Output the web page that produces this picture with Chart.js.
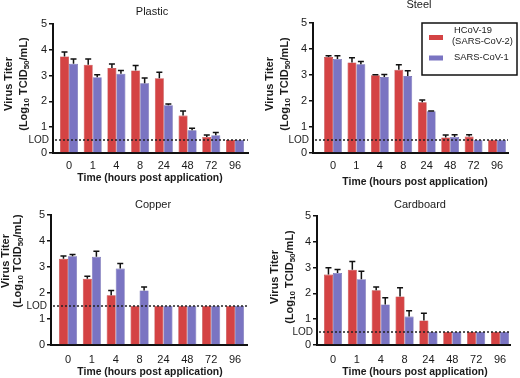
<!DOCTYPE html>
<html>
<head>
<meta charset="utf-8">
<script src="https://cdn.jsdelivr.net/npm/chart.js@4"></script>
<style>
  body { margin: 0; background: #fff; }
  #wrap { position: relative; width: 520px; height: 378px; }
  canvas { position: absolute; }
</style>
</head>
<body>
<div id="wrap">
  <canvas id="plastic" width="260" height="189" style="left:0;top:0"></canvas>
  <canvas id="steel" width="260" height="189" style="left:260px;top:0"></canvas>
  <canvas id="copper" width="260" height="189" style="left:0;top:189px"></canvas>
  <canvas id="cardboard" width="260" height="189" style="left:260px;top:189px"></canvas>
</div>
<script>
const timeLabels = ["0", "1", "4", "8", "24", "48", "72", "96"];

const plasticCov2 = [3.74, 3.42, 3.29, 3.2, 2.9, 1.45, 0.62, 0.5];
const plasticCov2Err = [0.17, 0.22, 0.16, 0.19, 0.23, 0.18, 0.08, 0];
const plasticCov1 = [3.46, 2.94, 3.07, 2.7, 1.85, 0.88, 0.69, 0.5];
const plasticCov1Err = [0.18, 0.09, 0.13, 0.21, 0.05, 0.08, 0.1, 0];

const steelCov2 = [3.69, 3.48, 2.99, 3.2, 1.95, 0.6, 0.63, 0.5];
const steelCov2Err = [0.05, 0.18, 0.02, 0.19, 0.09, 0.09, 0.07, 0];
const steelCov1 = [3.62, 3.41, 2.92, 2.96, 1.61, 0.62, 0.5, 0.5];
const steelCov1Err = [0.12, 0.11, 0.1, 0.2, 0.01, 0.08, 0, 0];

const copperCov2 = [3.32, 2.55, 1.91, 1.5, 1.5, 1.5, 1.5, 1.5];
const copperCov2Err = [0.1, 0.09, 0.19, 0, 0, 0, 0, 0];
const copperCov1 = [3.41, 3.39, 2.94, 2.1, 1.5, 1.5, 1.5, 1.5];
const copperCov1Err = [0.07, 0.22, 0.19, 0.13, 0, 0, 0, 0];

const cardboardCov2 = [2.73, 2.92, 2.12, 1.88, 0.95, 0.5, 0.5, 0.5];
const cardboardCov2Err = [0.26, 0.32, 0.13, 0.34, 0.28, 0, 0, 0];
const cardboardCov1 = [2.79, 2.55, 1.57, 1.1, 0.5, 0.5, 0.5, 0.5];
const cardboardCov1Err = [0.14, 0.31, 0.26, 0.23, 0, 0, 0, 0];

const RED = "#d44344";
const PURPLE = "#7a74c2";
const FONT = "'Liberation Sans', Arial, sans-serif";

// panel geometry (canvas coordinates)
const panels = [
  { id: "plastic", title: "Plastic", cov2: plasticCov2, cov2Err: plasticCov2Err, cov1: plasticCov1, cov1Err: plasticCov1Err, lod: 0.5,
    left: 53, right: 248, top: 24, bottom: 153, x0: 69, x7: 235, tickPad: 6,
    titleX: 152, titleY: 12, xTitleX: 150, xTitleY: 178, yT1: 9, yT2: 24, yTcy: 84, legend: false },
  { id: "steel", title: "Steel", cov2: steelCov2, cov2Err: steelCov2Err, cov1: steelCov1, cov1Err: steelCov1Err, lod: 0.5,
    left: 53, right: 248, top: 23, bottom: 153, x0: 73, x7: 237, tickPad: 6,
    titleX: 159, titleY: 5, xTitleX: 155, xTitleY: 182, yT1: 10, yT2: 25, yTcy: 84, legend: true },
  { id: "copper", title: "Copper", cov2: copperCov2, cov2Err: copperCov2Err, cov1: copperCov1, cov1Err: copperCov1Err, lod: 1.5,
    left: 51, right: 247, top: 26, bottom: 156, x0: 68, x7: 235, tickPad: 8,
    titleX: 153, titleY: 16, xTitleX: 150, xTitleY: 183, yT1: 6, yT2: 18, yTcy: 72, legend: false },
  { id: "cardboard", title: "Cardboard", cov2: cardboardCov2, cov2Err: cardboardCov2Err, cov1: cardboardCov1, cov1Err: cardboardCov1Err, lod: 0.5,
    left: 57, right: 250, top: 27, bottom: 156, x0: 73, x7: 240, tickPad: 8,
    titleX: 160, titleY: 16, xTitleX: 155, xTitleY: 183, yT1: 15, yT2: 30, yTcy: 88, legend: false }
];

function drawRotatedTitle(ctx, p) {
  // "Virus Titer" and "(Log10 TCID50/mL)" with subscripts
  ctx.save();
  ctx.fillStyle = "#1a1a1a";
  ctx.textBaseline = "middle";
  ctx.translate(p.yT1, p.yTcy);
  ctx.rotate(-Math.PI / 2);
  ctx.font = "bold 11px " + FONT;
  ctx.textAlign = "center";
  ctx.fillText("Virus Titer", 0, 0);
  ctx.restore();

  const parts = [["(Log", false], ["10", true], [" TCID", false], ["50", true], ["/mL)", false]];
  ctx.save();
  ctx.fillStyle = "#1a1a1a";
  ctx.textBaseline = "middle";
  ctx.translate(p.yT2, p.yTcy);
  ctx.rotate(-Math.PI / 2);
  let total = 0;
  parts.forEach(([t, sub]) => {
    ctx.font = (sub ? "bold 8px " : "bold 11px ") + FONT;
    total += ctx.measureText(t).width;
  });
  let x = -total / 2;
  ctx.textAlign = "left";
  parts.forEach(([t, sub]) => {
    ctx.font = (sub ? "bold 8px " : "bold 11px ") + FONT;
    ctx.fillText(t, x, sub ? 3 : 0);
    x += ctx.measureText(t).width;
  });
  ctx.restore();
}

function makeChart(p) {
  const unit = (p.x7 - p.x0) / 7;
  const toPoints = arr => arr.map((v, i) => ({ x: i, y: v }));

  const decor = {
    id: "decor",
    afterDatasetsDraw(chart) {
      const ctx = chart.ctx;
      const ys = chart.scales.y;
      const area = chart.chartArea;
      // error bars, upper side only
      const errs = [p.cov2Err, p.cov1Err];
      const vals = [p.cov2, p.cov1];
      ctx.save();
      ctx.strokeStyle = "#111";
      ctx.lineWidth = 1.5;
      [0, 1].forEach(d => {
        chart.getDatasetMeta(d).data.forEach((bar, i) => {
          const e = errs[d][i];
          if (!e) return;
          const yTop = ys.getPixelForValue(vals[d][i] + e);
          ctx.beginPath();
          ctx.moveTo(bar.x, bar.y);
          ctx.lineTo(bar.x, yTop);
          ctx.moveTo(bar.x - 3, yTop);
          ctx.lineTo(bar.x + 3, yTop);
          ctx.stroke();
        });
      });
      // LOD dotted line
      const yl = ys.getPixelForValue(p.lod);
      ctx.setLineDash([2, 2]);
      ctx.lineWidth = 1.5;
      ctx.strokeStyle = "#222";
      ctx.beginPath();
      ctx.moveTo(area.left + 2, yl);
      ctx.lineTo(area.right, yl);
      ctx.stroke();
      ctx.setLineDash([]);
      ctx.restore();
    },
    afterDraw(chart) {
      const ctx = chart.ctx;
      const ys = chart.scales.y;
      ctx.save();
      ctx.fillStyle = "#1a1a1a";
      ctx.font = "10px " + FONT;
      ctx.textAlign = "right";
      ctx.textBaseline = "middle";
      ctx.fillText("LOD", p.left - 4, ys.getPixelForValue(p.lod));
      ctx.font = "11px " + FONT;
      ctx.textAlign = "center";
      ctx.fillText(p.title, p.titleX, p.titleY);
      ctx.font = "bold 10.4px " + FONT;
      ctx.fillText("Time (hours post application)", p.xTitleX, p.xTitleY);
      ctx.restore();
      drawRotatedTitle(ctx, p);
      if (p.legend) {
        ctx.save();
        ctx.strokeStyle = "#111";
        ctx.lineWidth = 1.5;
        ctx.fillStyle = "#fff";
        ctx.fillRect(162, 23, 95, 52);
        ctx.strokeRect(162, 23, 95, 52);
        ctx.fillStyle = RED;
        ctx.fillRect(169, 35, 14, 5);
        ctx.fillStyle = PURPLE;
        ctx.fillRect(169, 55.5, 14, 5);
        ctx.fillStyle = "#1a1a1a";
        ctx.font = "9.4px " + FONT;
        ctx.textAlign = "left";
        ctx.textBaseline = "middle";
        ctx.fillText("HCoV-19", 194, 30);
        ctx.fillText("(SARS-CoV-2)", 192, 41.7);
        ctx.fillText("SARS-CoV-1", 194, 57.7);
        ctx.restore();
      }
    }
  };

  return new Chart(document.getElementById(p.id), {
    type: "bar",
    data: {
      datasets: [
        { label: "HCoV-19 (SARS-CoV-2)", data: toPoints(p.cov2), backgroundColor: RED,
          borderColor: "#b83536", borderWidth: 0.6, categoryPercentage: 0.76, barPercentage: 1.0 },
        { label: "SARS-CoV-1", data: toPoints(p.cov1), backgroundColor: PURPLE,
          borderColor: "#6560a8", borderWidth: 0.6, categoryPercentage: 0.76, barPercentage: 1.0 }
      ]
    },
    options: {
      responsive: false,
      animation: false,
      layout: { padding: { top: p.top, right: 260 - p.right, left: 0, bottom: 0 } },
      plugins: { legend: { display: false }, tooltip: { enabled: false } },
      scales: {
        x: {
          type: "linear",
          offset: false,
          min: -(p.x0 - p.left) / unit,
          max: 7 + (p.right - p.x7) / unit,
          afterBuildTicks: s => { s.ticks = timeLabels.map((_, i) => ({ value: i })); },
          afterFit: s => { s.height = 189 - p.bottom; },
          ticks: {
            padding: p.tickPad, maxRotation: 0, autoSkip: false,
            color: "#1a1a1a", font: { family: FONT, size: 11 },
            callback: v => timeLabels[v]
          },
          grid: { display: false, drawTicks: false },
          border: { color: "#111", width: 2 }
        },
        y: {
          min: 0,
          max: 5,
          afterFit: s => { s.width = p.left; },
          ticks: { stepSize: 1, padding: 2, color: "#1a1a1a", font: { family: FONT, size: 11 } },
          grid: { drawOnChartArea: false, tickLength: 4, color: "#111", lineWidth: 1.5 },
          border: { color: "#111", width: 2 }
        }
      }
    },
    plugins: [decor]
  });
}

panels.forEach(makeChart);
</script>
</body>
</html>
